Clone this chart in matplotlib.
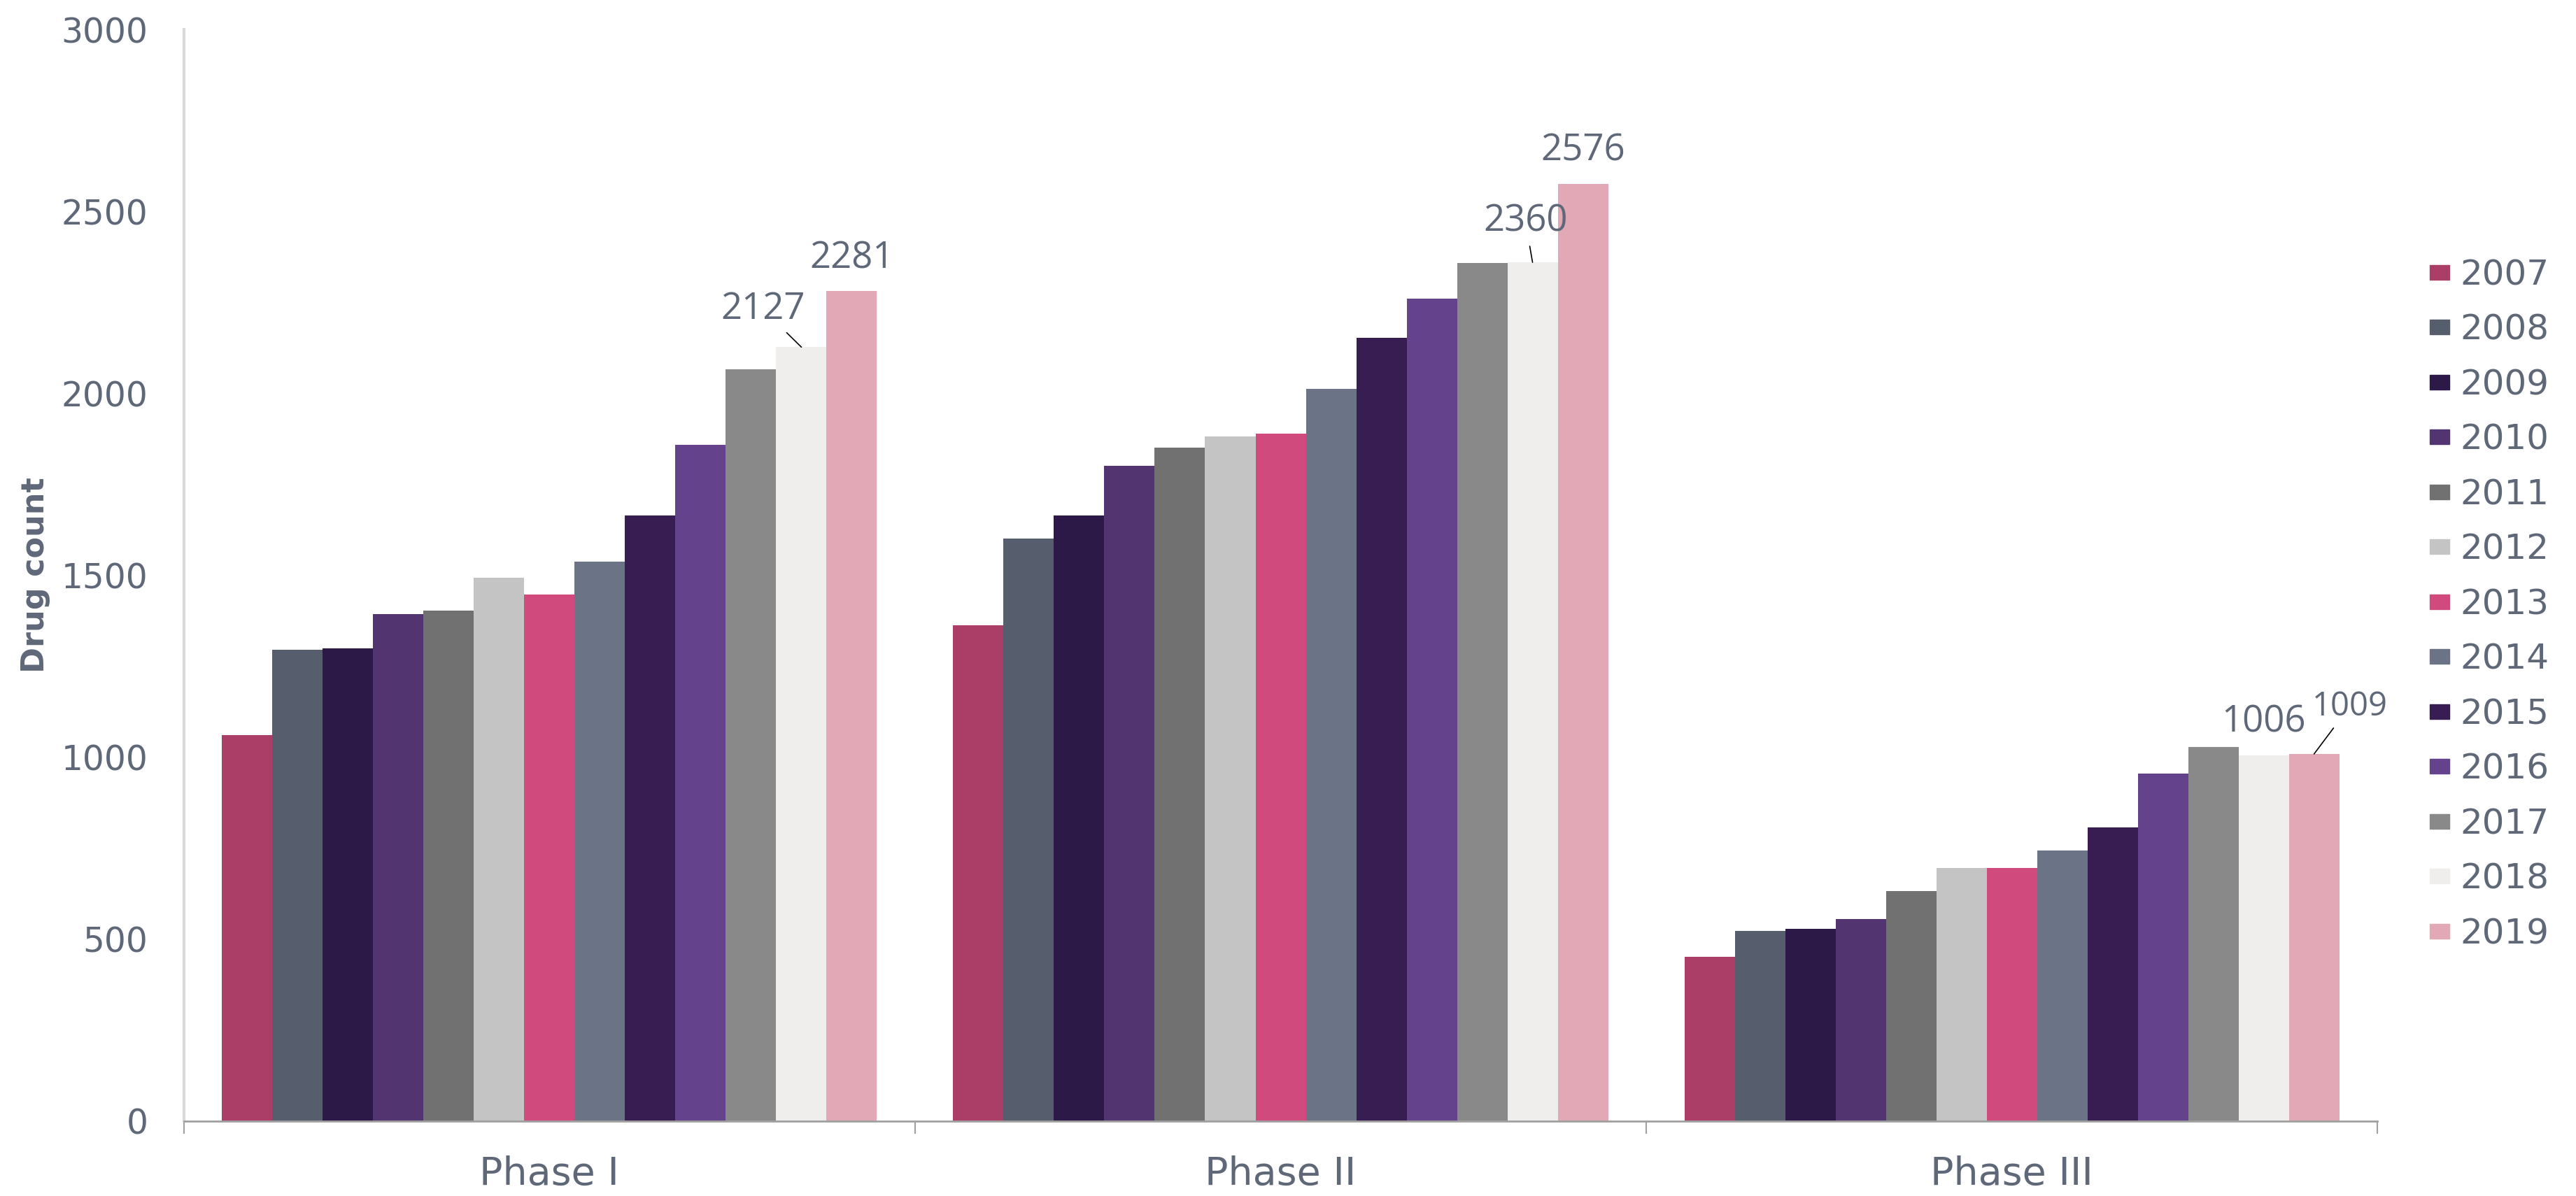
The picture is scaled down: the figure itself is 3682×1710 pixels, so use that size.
import numpy as np
import matplotlib.pyplot as plt
from matplotlib.patches import Patch

phases = ['Phase I', 'Phase II', 'Phase III']
years = ['2007', '2008', '2009', '2010', '2011', '2012', '2013',
         '2014', '2015', '2016', '2017', '2018', '2019']
colors = ['#AA3E67', '#565D6D', '#2D1947', '#523570', '#717171', '#C4C4C4',
          '#D04A7E', '#6B7486', '#381D52', '#64428C', '#898989', '#EFEEEC',
          '#E2A8B5']

# drug count per year, columns = Phase I, II, III
counts = [
    [1060, 1362, 451],
    [1295, 1601, 523],
    [1299, 1665, 528],
    [1394, 1800, 555],
    [1403, 1850, 632],
    [1493, 1881, 695],
    [1448, 1890, 695],
    [1538, 2012, 744],
    [1665, 2152, 807],
    [1859, 2260, 956],
    [2066, 2359, 1028],
    [2127, 2360, 1006],
    [2281, 2576, 1009],
]

# labelled bars: (year index, phase index, text offset px, font size, leader line)
labels = [
    (11, 0, (-55, 54), 38, True),
    (12, 0, (0, 46), 38, False),
    (11, 1, (-10, 58), 38, True),
    (12, 1, (0, 47), 38, False),
    (11, 2, (0, 47), 38, False),
    (12, 2, (51, 68), 34, True),
]

txt = '#5F6878'

fig = plt.figure(figsize=(36.82, 17.10), dpi=100)
ax = fig.add_axes([0.0714, 0.0626, 0.9229 - 0.0714, 0.9754 - 0.0626])

n = len(years)
w = 0.0689
x = np.arange(len(phases))
for j in range(n):
    ax.bar(x + (j - (n - 1) / 2) * w, counts[j], width=w, color=colors[j],
           label=years[j], zorder=2)

for j, i, off, fs, line in labels:
    xb = i + (j - (n - 1) / 2) * w
    yb = counts[j][i]
    ap = dict(arrowstyle='-', color='black', lw=1.2, shrinkA=4, shrinkB=0) if line else None
    ax.annotate(str(yb), xy=(xb, yb), xytext=off, textcoords='offset pixels',
                ha='center', va='center', fontsize=fs, color=txt,
                family='Open Sans', arrowprops=ap)

ax.set_xlim(-0.5, 2.5)
ax.set_ylim(0, 3000)
ax.set_yticks(np.arange(0, 3001, 500))
ax.tick_params(axis='y', length=0, pad=37, labelsize=35, labelcolor=txt)

ax.set_xticks([-0.5, 0.5, 1.5, 2.5])
ax.set_xticklabels([])
ax.tick_params(axis='x', which='major', length=13, width=1.5, color='#A0A0A0')
ax.set_xticks(x, minor=True)
ax.set_xticklabels(phases, minor=True, fontsize=40, color=txt)
ax.tick_params(axis='x', which='minor', length=0, pad=35)

for s in ['top', 'right']:
    ax.spines[s].set_visible(False)
ax.spines['left'].set_color('#D9D9D9')
ax.spines['left'].set_linewidth(3)
ax.spines['bottom'].set_color('#A0A0A0')
ax.spines['bottom'].set_linewidth(2)

ax.set_ylabel('Drug count', fontsize=32, fontweight='bold', color=txt)
ax.yaxis.set_label_coords(-0.061, 0.5)

handles = [Patch(color=c) for c in colors]
fig.legend(handles, years, loc='upper left', bbox_to_anchor=(0.9432, 0.784),
           frameon=False, fontsize=36, labelcolor=txt, borderpad=0,
           borderaxespad=0, handlelength=0.57, handleheight=0.27,
           handletextpad=0.31, labelspacing=0.61)

fig.savefig('out.png', dpi=100)
